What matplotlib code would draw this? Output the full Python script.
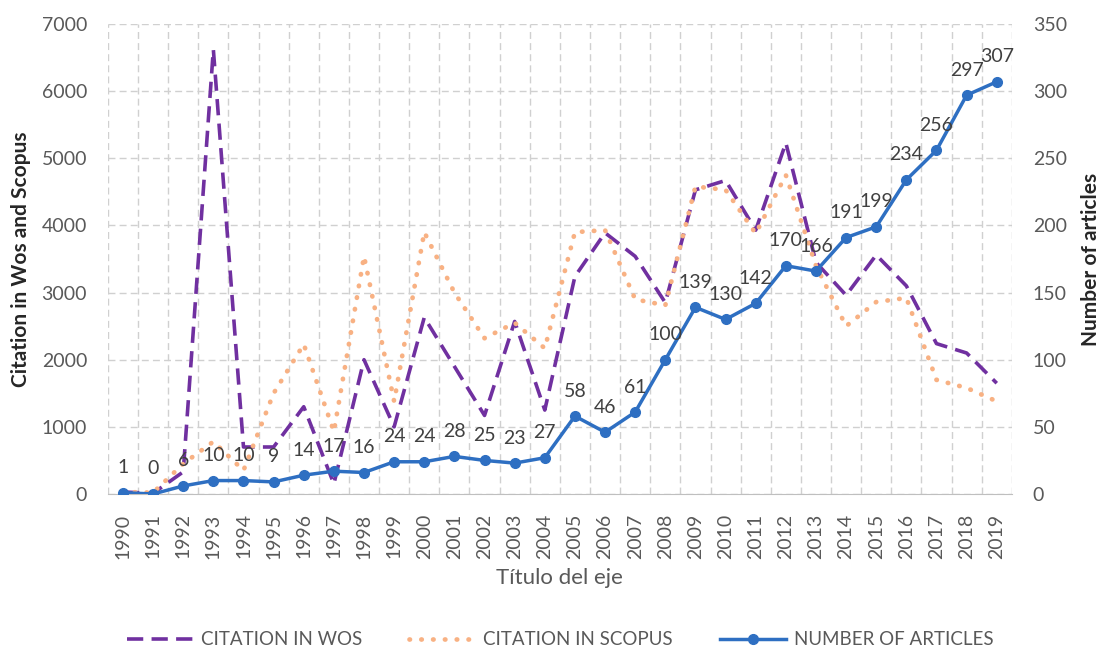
import matplotlib.pyplot as plt
from matplotlib.ticker import FixedLocator

plt.rcParams["font.family"] = ["Lato", "DejaVu Sans"]

years = list(range(1990, 2020))
citation_wos = [30, 10, 330, 6620, 700, 700, 1300, 150, 2000, 1000,
                2630, 1900, 1170, 2570, 1250, 3240, 3890, 3540, 2850, 4530,
                4670, 3930, 5230, 3450, 2960, 3560, 3100, 2240, 2100, 1650]
citation_scopus = [30, 20, 450, 780, 350, 1500, 2230, 930, 3540, 1380,
                   3900, 3000, 2320, 2550, 2170, 3900, 3930, 2900, 2810, 4580,
                   4530, 3880, 4750, 3400, 2500, 2860, 2920, 1700, 1580, 1380]
n_articles = [1, 0, 6, 10, 10, 9, 14, 17, 16, 24,
              24, 28, 25, 23, 27, 58, 46, 61, 100, 139,
              130, 142, 170, 166, 191, 199, 234, 256, 297, 307]

WOS_COLOR = "#7030A0"
SCOPUS_COLOR = "#F8B183"
ART_COLOR = "#2E6FC2"
TEXT_COLOR = "#595959"

fig = plt.figure(figsize=(11.01, 6.53), dpi=100)
ax = fig.add_axes([0.098, 0.2435, 0.821, 0.7197])
ax2 = ax.twinx()

l1, = ax.plot(years, citation_wos, color=WOS_COLOR, lw=2.6, linestyle=(0, (4.5, 2.3)),
              label="CITATION IN WOS")
l2, = ax.plot(years, citation_scopus, color=SCOPUS_COLOR, lw=3.4, linestyle=(0, (0.1, 2.4)),
              dash_capstyle="round", label="CITATION IN SCOPUS")
l3, = ax2.plot(years, n_articles, color=ART_COLOR, lw=2.5, marker="o", ms=7,
               label="NUMBER OF ARTICLES")
for x, v in zip(years, n_articles):
    ax2.annotate(str(v), (x, v), xytext=(0, 18), textcoords="offset points",
                 ha="center", va="center", fontsize=14, color="#404040")

ax.set_xlim(1989.5, 2019.5)
ax.set_ylim(0, 7000)
ax2.set_ylim(0, 350)
ax.set_yticks(range(0, 7001, 1000))
ax2.set_yticks(range(0, 351, 50))
ax.set_xticks(years)
ax.set_xticklabels([str(y) for y in years], rotation=90)
ax.xaxis.set_minor_locator(FixedLocator([y - 0.5 for y in years] + [2019.5]))

ax.grid(False)
ax.grid(which="minor", axis="x", color="#D0D0D0", linestyle=(0, (5, 3)), lw=1)
ax.grid(which="major", axis="y", color="#D0D0D0", linestyle=(0, (5, 3)), lw=1)
ax.tick_params(which="both", length=0)
ax2.tick_params(length=0)
for a in (ax, ax2):
    for s in ("top", "right", "left"):
        a.spines[s].set_visible(False)
    a.spines["bottom"].set_color("#BFBFBF")
    a.tick_params(labelsize=14, labelcolor=TEXT_COLOR)
ax2.spines["bottom"].set_visible(False)
ax.tick_params(axis="y", pad=15)
ax2.tick_params(axis="y", pad=15)
ax.tick_params(axis="x", pad=14)

ax.set_ylabel("Citation in Wos and Scopus", fontsize=15, fontweight="bold",
              color="#262626")
ax2.set_ylabel("Number of articles", fontsize=15, fontweight="bold",
               color="#262626")
ax.set_xlabel("Título del eje", fontsize=16, color=TEXT_COLOR)
ax.yaxis.set_label_coords(-0.085, 0.5)
ax2.yaxis.set_label_coords(1.077, 0.5)
ax.xaxis.set_label_coords(0.5, -0.158)

fig.legend(handles=[l1, l2, l3], loc="center", bbox_to_anchor=(0.509, 0.02),
           ncol=3, frameon=False, fontsize=13.5, handlelength=3.5,
           handletextpad=0.45, columnspacing=2.5, labelcolor=TEXT_COLOR)

fig.savefig("out.png", dpi=100)
